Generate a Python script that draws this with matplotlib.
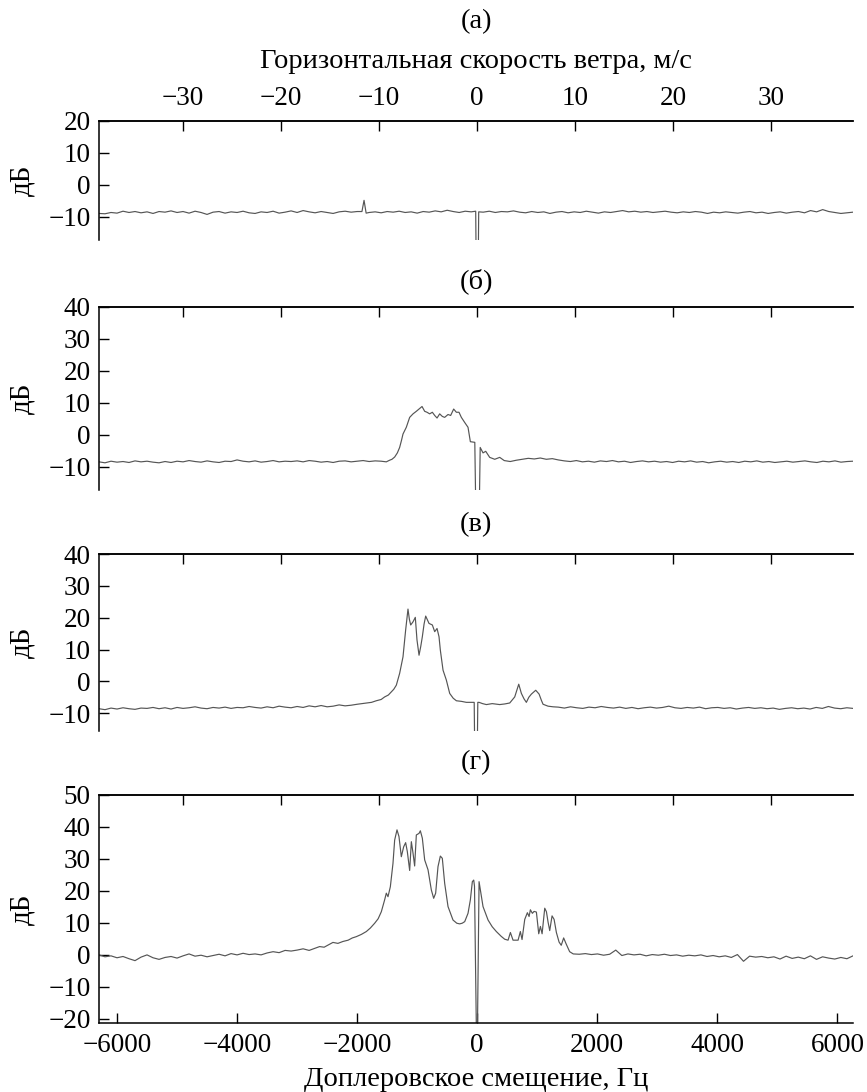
import numpy as np
import matplotlib
matplotlib.use('Agg')
import matplotlib.pyplot as plt
from matplotlib.transforms import blended_transform_factory

plt.rcParams['font.family'] = ['Liberation Serif', 'DejaVu Serif']
plt.rcParams['font.size'] = 19.5

# ---------------- data ----------------
HZ_PER_MS = 163.3          # Doppler shift (Hz) per 1 m/s of horizontal wind speed
X_LIM = (-6300, 6260)

panel_titles = ['(а)', '(б)', '(в)', '(г)']
y_ticks = [[-10, 0, 10, 20],
           [-10, 0, 10, 20, 30, 40],
           [-10, 0, 10, 20, 30, 40],
           [-20, -10, 0, 10, 20, 30, 40, 50]]
y_lims = [(-17.2, 20), (-17.2, 40), (-15.6, 40), (-21.3, 50)]
freq_ticks = [-6000, -4000, -2000, 0, 2000, 4000, 6000]
speed_ticks = [-30, -20, -10, 0, 10, 20, 30]

# panel (а): evenly sampled noise floor segments + explicit feature points
a_noise_left = [-8.9, -9.0, -8.6, -8.8, -8.2, -8.6, -8.3, -8.7, -8.4, -8.9, -8.3, -8.5, -8.1, -8.6,
                -8.3, -8.8, -8.2, -8.6, -9.2, -8.5, -8.3, -8.8, -8.4, -8.6, -8.2, -8.7, -8.9, -8.4,
                -8.6, -8.2, -8.8, -8.5, -8.1, -8.6, -8.0, -8.4, -8.7, -8.3, -8.6, -8.9, -8.4, -8.2,
                -8.5, -8.3]
a_spike_freq = [-1920, -1885, -1850]
a_spike_level = [-8.3, -4.8, -8.8]
a_noise_mid = [-8.6, -8.4, -8.7, -8.3, -8.5, -8.2, -8.6, -8.4, -8.8, -8.3, -8.5, -8.1, -8.4, -7.9,
               -8.3, -8.6, -8.2, -8.4]
a_notch_freq = [-25, 0, 25]
a_notch_level = [-8.2, -60, -8.4]
a_noise_right = [-8.5, -8.2, -8.6, -8.3, -8.4, -8.1, -8.5, -8.7, -8.3, -8.6, -8.4, -8.9, -8.5, -8.3,
                 -8.7, -8.4, -8.6, -8.2, -8.5, -8.8, -8.4, -8.6, -8.3, -8.0, -8.4, -8.2, -8.5, -8.3,
                 -8.6, -8.4, -8.2, -8.5, -8.7, -8.4, -8.6, -8.3, -8.5, -8.9, -8.5, -8.7, -8.4, -8.6,
                 -8.8, -8.5, -8.3, -8.7, -8.5, -8.9, -8.6, -8.4, -8.8, -8.5, -8.3, -8.7, -8.0, -8.4,
                 -7.7, -8.3, -8.6, -8.9, -8.7, -8.5]

# panel (б)
b_noise_left = [-8.4, -8.7, -8.2, -8.5, -8.3, -8.6, -8.1, -8.4, -8.2, -8.5, -8.7, -8.3, -8.6, -8.2,
                -8.4, -8.0, -8.3, -8.5, -8.1, -8.4, -8.6, -8.2, -8.3, -7.8, -8.2, -8.4, -8.1, -8.5,
                -8.3, -8.0, -8.4, -8.2, -8.3, -8.1, -8.4, -8.0, -8.2, -8.5, -8.3, -8.6, -8.2, -8.1,
                -8.4, -8.2, -8.0, -8.3, -8.1, -8.2]
b_peak_freq = [-1514, -1460, -1420, -1375, -1330, -1292, -1260, -1236, -1181, -1125, -1069, -1014,
               -969, -919, -875, -836, -792, -747, -708, -669, -625, -581, -542, -486, -442, -392,
               -347, -303, -264, -208, -153, -114, -40, 5, 50, 97, 142, 208, 292, 375]
b_peak_level = [-8.4, -7.9, -7.6, -6.9, -5.6, -3.9, -1.6, 0.3, 2.4, 5.5, 6.6, 7.4,
                8.1, 8.9, 7.4, 7.1, 6.6, 7.1, 6.1, 5.3, 6.6, 5.8, 5.5, 6.4, 6.1, 8.1,
                7.1, 7.1, 5.5, 3.9, 2.4, -2.1, -2.3, -60, -3.9, -5.6, -5.1, -7.0, -7.6, -7.0]
b_noise_right = [-8.0, -8.3, -7.9, -7.6, -7.3, -7.5, -7.2, -7.6, -7.4, -7.8, -8.1, -8.3, -8.0, -8.4,
                 -8.2, -8.5, -8.1, -8.3, -8.0, -8.4, -8.2, -8.6, -8.3, -8.1, -8.4, -8.2, -8.5, -8.3,
                 -8.6, -8.2, -8.4, -8.1, -8.5, -8.3, -8.7, -8.4, -8.2, -8.5, -8.3, -8.6, -8.2, -8.4,
                 -8.1, -8.5, -8.3, -8.6, -8.4, -8.2, -8.5, -8.3, -8.1, -8.4, -8.6, -8.2, -8.4, -8.1,
                 -8.5, -8.3, -8.2]

# panel (в)
c_noise_left = [-8.6, -8.9, -8.4, -8.7, -8.3, -8.6, -8.8, -8.4, -8.5, -8.2, -8.6, -8.3, -8.7, -8.2,
                -8.5, -8.3, -8.0, -8.4, -8.6, -8.2, -8.4, -8.1, -8.5, -8.2, -8.3, -7.9, -8.2, -8.4,
                -8.0, -8.3, -7.8, -8.1, -8.3, -7.9, -8.2, -7.7, -8.0, -7.6, -8.0, -7.8, -7.4, -7.7,
                -7.5, -7.2]
c_peak_freq = [-1847, -1760, -1681, -1600, -1542, -1480, -1431, -1390, -1347, -1292, -1236, -1192,
               -1153, -1130, -1108, -1069, -1031, -1003, -969, -940, -914, -885, -858, -803, -747,
               -708, -669, -636, -614, -569, -514, -458, -400, -347, -260, -181, -81, -50,
               -20,
               10, 31, 90, 153, 250, 375, 460, 542, 625, 692, 736, 780, 819, 860, 903, 975, 1031,
               1070, 1097, 1180, 1264]
c_peak_level = [-6.8, -6.6, -6.1, -5.7, -4.9, -4.3, -3.3, -2.5, -1.2, 2.5, 7.7, 16.1,
                22.7, 19.5, 17.7, 18.7, 20.1, 13.0, 8.2, 11.0, 14.0, 18.0, 20.5, 18.2, 17.7,
                15.6, 16.6, 14.0, 9.8, 3.5, 0.4, -3.8, -5.3, -6.1, -6.3, -6.6, -6.6, -6.6,
                -60,
                -6.6, -6.6, -7.0, -7.3, -7.0, -7.3, -7.1, -6.8, -4.9, -0.9, -3.8, -5.5, -6.6, -5.0,
                -4.0, -2.8, -4.0, -6.0, -7.2, -7.8, -8.0]
c_noise_right = [-8.1, -8.4, -8.0, -8.3, -8.5, -8.1, -8.3, -7.9, -8.2, -8.4, -8.1, -8.5, -8.2, -8.6,
                 -8.3, -8.1, -8.4, -8.2, -7.8, -8.3, -8.5, -8.2, -8.4, -8.1, -8.6, -8.3, -8.2, -8.5,
                 -8.3, -8.7, -8.4, -8.2, -8.5, -8.3, -8.6, -8.4, -8.8, -8.5, -8.3, -8.6, -8.4, -8.7,
                 -8.2, -8.5, -7.9, -8.4, -8.6, -8.3, -8.5]

# panel (г)
d_noise_left = [0.0, -0.6, -0.3, -0.9, -0.5, -1.2, -1.8, -0.7, 0.0, -0.9, -1.4, -0.8, -0.5, -1.0,
                -0.3, 0.3, -0.4, -0.1, -0.6, -0.2, 0.2, -0.3, 0.4, 0.0, 0.5, 0.1, 0.3, 0.0, 0.6,
                1.0, 0.7, 1.4, 1.2]
d_peak_freq = [-3000, -2900, -2800, -2700, -2625, -2550, -2480, -2403, -2320, -2236, -2150, -2080,
               -2014, -1930, -1847, -1780, -1708, -1650, -1597, -1542, -1514, -1486, -1447, -1403,
               -1375, -1336, -1303, -1264, -1225, -1192, -1164, -1125, -1097, -1069, -1042, -1014,
               -969, -947, -914, -875, -819, -764, -725, -692, -653, -614, -581, -542, -486, -403,
               -340, -292, -250, -208, -153, -114, -81, -58, -45,
               -15, 5,
               31, 53, 97, 181, 250, 319, 400, 458, 514, 553, 597, 681, 719, 747, 792, 836, 864,
               886, 919, 947, 986, 1025, 1053, 1081, 1125, 1153, 1181, 1208, 1247, 1281, 1319,
               1364, 1400, 1440, 1480, 1540, 1600]
d_peak_level = [1.5, 1.9, 1.4, 2.1, 2.6, 2.4, 3.1, 3.9, 3.6, 4.2, 4.6, 5.3,
                5.7, 6.4, 7.3, 8.4, 9.9, 11.3, 13.5, 17.2, 19.3, 18.2, 21.3, 28.6,
                35.9, 39.1, 37.0, 30.7, 33.8, 35.1, 32.3, 26.4, 35.4, 31.8, 27.8, 37.5,
                38.0, 38.8, 36.5, 29.7, 26.6, 20.3, 17.7, 19.3, 27.6, 30.9, 30.2, 22.4, 15.1, 10.9,
                9.9, 9.7, 9.9, 10.4, 13.0, 17.2, 22.9, 23.4, 21.5,
                -22.0, -22.0,
                22.9, 20.3, 15.1, 10.9, 8.8, 7.3, 5.8, 4.9, 4.6, 7.0, 4.6, 4.6, 7.3, 4.8, 11.1,
                13.2, 12.0, 14.1, 13.0, 13.6, 13.4, 6.6, 8.9, 6.6, 14.6, 13.5, 10.2, 7.6, 12.2,
                11.1, 7.0, 4.0, 3.0, 5.3, 3.5, 1.0, 0.3]
d_noise_right = [0.2, 0.4, 0.1, 0.3, -0.1, 0.2, 1.5, -0.2, 0.3, 0.0, 0.2, -0.3, 0.1, -0.1, 0.2,
                 -0.2, 0.0, -0.4, -0.1, -0.3, 0.0, -0.5, -0.2, -0.6, -0.3, -0.8, 0.1, -2.0, -0.4,
                 -0.7, -0.5, -0.9, -0.6, -1.3, -0.4, -1.1, -0.7, -1.2, -0.3, -1.4, -0.6, -1.0,
                 -1.3, -0.8, -1.2, -0.3]


def grid(f0, f1, levels):
    """Noise-floor samples are evenly spaced between f0 and f1."""
    return np.linspace(f0, f1, len(levels)), np.asarray(levels, float)


def pts(freqs, levels):
    return np.asarray(freqs, float), np.asarray(levels, float)


def join(*parts):
    return (np.concatenate([p[0] for p in parts]),
            np.concatenate([p[1] for p in parts]))


spectra = [
    join(grid(-6300, -2000, a_noise_left), pts(a_spike_freq, a_spike_level),
         grid(-1800, -100, a_noise_mid), pts(a_notch_freq, a_notch_level),
         grid(100, 6260, a_noise_right)),
    join(grid(-6300, -1600, b_noise_left), pts(b_peak_freq, b_peak_level),
         grid(450, 6260, b_noise_right)),
    join(grid(-6300, -2000, c_noise_left), pts(c_peak_freq, c_peak_level),
         grid(1350, 6260, c_noise_right)),
    join(grid(-6300, -3100, d_noise_left), pts(d_peak_freq, d_peak_level),
         grid(1700, 6260, d_noise_right)),
]

# ---------------- layout ----------------
FIG_W, FIG_H = 867, 1092
fig = plt.figure(figsize=(FIG_W / 100, FIG_H / 100), dpi=100)
ax_left, ax_right = 99, 853
panel_px = [(121, 240), (307, 490), (554, 731), (795, 1023)]   # top, bottom in pixels
title_y_px = [22, 281, 525, 763]

LINE_COLOR = '#555555'
TICK_LEN = 7
TICK_FS = 19.5
LABEL_FS = 20.5

for i, ((top, bot), (freq, level)) in enumerate(zip(panel_px, spectra)):
    rect = [ax_left / FIG_W, 1 - bot / FIG_H, (ax_right - ax_left) / FIG_W, (bot - top) / FIG_H]
    ax = fig.add_axes(rect)
    ax.plot(freq, level, color=LINE_COLOR, lw=0.85)
    ax.set_xlim(*X_LIM)
    ax.set_ylim(*y_lims[i])
    ax.set_yticks(y_ticks[i])
    ax.spines['right'].set_visible(False)
    last = (i == 3)
    ax.spines['bottom'].set_visible(last)
    for s in ax.spines.values():
        s.set_linewidth(1.1)
    ax.tick_params(axis='y', direction='in', length=TICK_LEN, width=1.0, pad=6,
                   labelsize=TICK_FS)
    if last:
        ax.set_xticks(freq_ticks)
        ax.tick_params(axis='x', direction='in', length=TICK_LEN, width=1.0, pad=7,
                       labelsize=TICK_FS, top=False)
    else:
        ax.tick_params(axis='x', bottom=False, labelbottom=False, top=False)

    sec = ax.secondary_xaxis('top', functions=(lambda f: f / HZ_PER_MS,
                                                lambda v: v * HZ_PER_MS))
    sec.set_xticks(speed_ticks)
    sec.spines['top'].set_linewidth(1.1)
    sec.tick_params(direction='in', length=TICK_LEN, width=1.0, pad=7, labelsize=TICK_FS,
                    labeltop=(i == 0))

    tr = blended_transform_factory(fig.transFigure, ax.transAxes)
    ax.text(22 / FIG_W, 0.5, 'дБ', transform=tr, rotation=90, ha='center', va='center',
            fontsize=21)

    fig.text(476 / FIG_W, 1 - title_y_px[i] / FIG_H, panel_titles[i], ha='center',
             va='center', fontsize=LABEL_FS)

fig.text(476 / FIG_W, 1 - 62 / FIG_H, 'Горизонтальная скорость ветра, м/с',
         ha='center', va='center', fontsize=LABEL_FS)
fig.text(476 / FIG_W, 1 - 1079 / FIG_H, 'Доплеровское смещение, Гц',
         ha='center', va='center', fontsize=LABEL_FS)

fig.savefig('out.png', dpi=100)
